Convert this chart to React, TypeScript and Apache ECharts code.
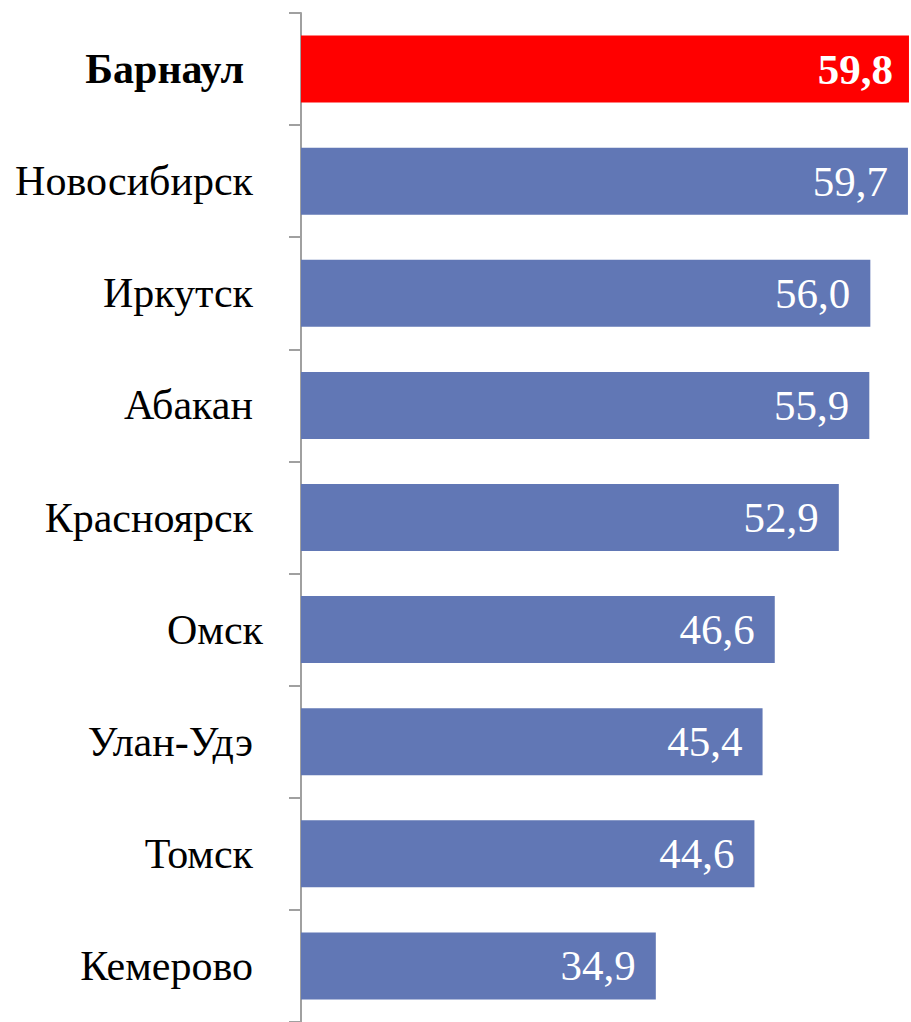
import React, { useEffect, useRef } from "react";
import * as echarts from "echarts";

const categories = ["Барнаул", "Новосибирск", "Иркутск", "Абакан", "Красноярск", "Омск", "Улан-Удэ", "Томск", "Кемерово"];
const values = [59.8, 59.7, 56.0, 55.9, 52.9, 46.6, 45.4, 44.6, 34.9];
const highlighted = "Барнаул";

const FONT = "Liberation Serif";
const BLUE = "#6177B5";
const RED = "#FF0000";

export default function App() {
  const ref = useRef<HTMLDivElement>(null);
  useEffect(() => {
    if (!ref.current) return;
    const chart = echarts.init(ref.current, null, { renderer: "svg" });
    const fmt = (v: number) => v.toFixed(1).replace(".", ",");
    chart.setOption({
      animation: false,
      textStyle: { fontFamily: FONT },
      grid: { left: 301, top: 13, width: 613, height: 1012.5 },
      xAxis: {
        type: "value",
        min: 0,
        max: 60,
        show: false,
      },
      yAxis: {
        type: "category",
        inverse: true,
        data: categories,
        axisLine: { show: true, lineStyle: { color: "#A0A0A0", width: 2 } },
        axisTick: { show: true, length: 12, lineStyle: { color: "#A0A0A0", width: 2 } },
        axisLabel: {
          margin: 38,
          fontFamily: FONT,
          fontSize: 42,
          color: "#000",
          formatter: (v: string) => {
            if (v === highlighted) return `{b|${v}}`;
            if (v === "Омск") return `{o|${v}}`;
            return `{n|${v}}`;
          },
          rich: {
            n: { fontFamily: FONT, fontSize: 42, color: "#000", padding: [0, 10, 0, 0] },
            o: { fontFamily: FONT, fontSize: 42, color: "#000", padding: [0, 0, 0, 0] },
            b: { fontFamily: FONT, fontSize: 42, fontWeight: "bold", color: "#000", padding: [0, 19, 0, 0] },
          },
        },
      },
      series: [
        {
          type: "bar",
          barWidth: 67,
          data: values.map((v, i) => {
            const hl = categories[i] === highlighted;
            return {
              value: v,
              itemStyle: { color: hl ? RED : BLUE },
              label: hl ? { fontWeight: "bold", distance: 16 } : undefined,
            };
          }),
          label: {
            show: true,
            position: "insideRight",
            distance: 20,
            color: "#fff",
            fontFamily: FONT,
            fontSize: 43,
            formatter: (p: any) => fmt(p.value),
          },
        },
      ],
    });
    return () => chart.dispose();
  }, []);
  return <div ref={ref} style={{ position: "absolute", left: 0, top: 0, width: 911, height: 1022 }} />;
}
